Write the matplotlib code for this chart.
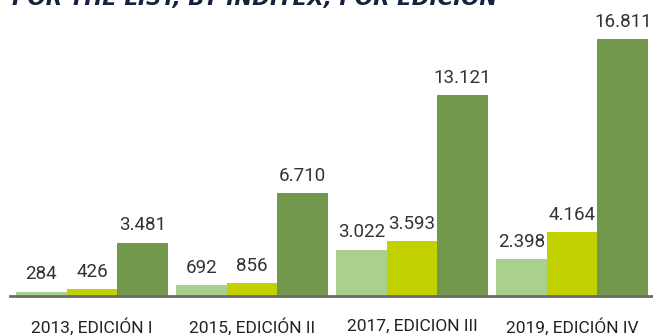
import matplotlib
matplotlib.use('Agg')
import matplotlib.pyplot as plt
import numpy as np

# participantes por edición
ediciones = ['2013, EDICIÓN I', '2015, EDICIÓN II', '2017, EDICION III', '2019, EDICIÓN IV']
serie_a = [284, 692, 3022, 2398]
serie_b = [426, 856, 3593, 4164]
serie_c = [3481, 6710, 13121, 16811]

colores = ['#aad08f', '#c2d100', '#72984b']
fuente = ['Roboto', 'DejaVu Sans']

fig = plt.figure(figsize=(6.53, 3.36), dpi=100)
ax = fig.add_axes([0, 40 / 336, 1, 296 / 336])

x = np.arange(len(ediciones))
ancho = 0.317
for i, (serie, color) in enumerate(zip([serie_a, serie_b, serie_c], colores)):
    barras = ax.bar(x + (i - 1) * ancho, serie, width=ancho, color=color)
    for b, v in zip(barras, serie):
        ax.annotate(f'{v:,}'.replace(',', '.'),
                    (b.get_x() + b.get_width() / 2, v),
                    xytext=(0, 6), textcoords='offset points',
                    ha='center', va='bottom', fontsize=13.5,
                    color='#333333', family=fuente)

ax.set_xlim(-0.575, 3.506)
ax.set_ylim(0, 19360)
ax.axis('off')
ax.axhline(0, xmin=10 / 653, xmax=1, color='#6b6b6b', lw=2, clip_on=False)

for xi, nombre in zip(x, ediciones):
    ax.text(xi, -2000, nombre, ha='center', va='center', fontsize=12.5,
            color='#222222', family=fuente)

# titulo, parte superior recortada
fig.text(0.018, 1 - 5 / 336, 'POR THE LIST, BY INDITEX, POR EDICIÓN',
         ha='left', va='baseline', fontsize=15.4, fontweight='bold',
         fontstyle='italic', color='#13223d')

fig.savefig('out.png', dpi=100)
